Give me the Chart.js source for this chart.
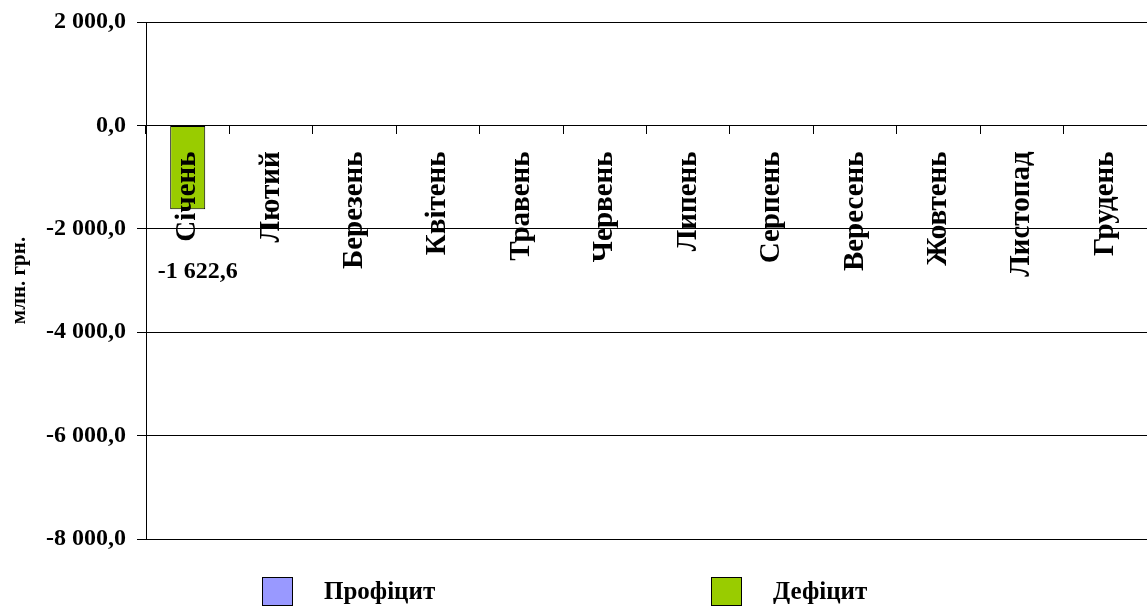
<!DOCTYPE html>
<html lang="uk">
<head>
<meta charset="utf-8">
<title>Виконання бюджету: профіцит / дефіцит, млн. грн.</title>
<script src="https://cdn.jsdelivr.net/npm/chart.js@4/dist/chart.umd.min.js"></script>
<style>
  html, body { margin: 0; padding: 0; background: #fff; }
  #wrap { position: relative; width: 1147px; height: 607px; }
  #chart { position: absolute; left: 0; top: 0; }
  .legend-item { position: absolute; top: 576px; height: 30px; display: flex; align-items: center;
                 font-family: "Liberation Serif", "Times New Roman", serif; font-weight: bold;
                 font-size: 25px; color: #000; white-space: nowrap; }
  .legend-box { width: 29px; height: 27px; border: 1px solid #000; margin-right: 31px; box-sizing: content-box; }
</style>
</head>
<body>
<div id="wrap">
  <canvas id="chart" width="1147" height="607"></canvas>
</div>
<script>
// Місяці року
const months = ['Січень', 'Лютий', 'Березень', 'Квітень', 'Травень', 'Червень',
                'Липень', 'Серпень', 'Вересень', 'Жовтень', 'Листопад', 'Грудень'];

// Профіцит та дефіцит бюджету, млн. грн.
const profitValues  = [null, null, null, null, null, null, null, null, null, null, null, null];
const deficitValues = [-1622.6, null, null, null, null, null, null, null, null, null, null, null];

// Шкала значень
const yMin = -8000;
const yMax = 2000;
const yStep = 2000;

const seriesNames  = ['Профіцит', 'Дефіцит'];
const seriesColors = ['#9999FF', '#99CC00'];
const legendLeft   = [262, 711];

const SERIF = '"Liberation Serif", "Times New Roman", serif';

// 1234.5 -> "1 234,5"
function fmt(v) {
  const s = Math.abs(v).toFixed(1).split('.');
  const int = s[0].replace(/\B(?=(\d{3})+(?!\d))/g, ' ');
  return (v < 0 ? '-' : '') + int + ',' + s[1];
}

// Підписи значень під стовпцями
const valueLabels = {
  id: 'valueLabels',
  afterDraw(chart) {
    const ctx = chart.ctx;
    ctx.save();
    ctx.font = 'bold 24px ' + SERIF;
    ctx.fillStyle = '#000';
    ctx.textAlign = 'center';
    ctx.textBaseline = 'middle';
    chart.data.datasets.forEach((ds, di) => {
      const meta = chart.getDatasetMeta(di);
      meta.data.forEach((el, i) => {
        const v = ds.data[i];
        if (v === null || v === undefined) return;
        ctx.fillText(fmt(v), el.x + 10, el.y + 63);
      });
    });
    ctx.restore();
  }
};

const chart = new Chart(document.getElementById('chart'), {
  type: 'bar',
  data: {
    labels: months,
    datasets: [
      { label: seriesNames[0], data: profitValues, backgroundColor: seriesColors[0] },
      { label: seriesNames[1], data: deficitValues, backgroundColor: seriesColors[1] }
    ].map(d => Object.assign(d, {
      borderColor: '#000', borderWidth: 1, borderSkipped: false,
      grouped: false, barPercentage: 0.42, categoryPercentage: 1
    }))
  },
  options: {
    responsive: false,
    animation: false,
    devicePixelRatio: 1,
    layout: { padding: { top: 22, right: 0, bottom: 68, left: 0 } },
    plugins: {
      legend: { display: false },
      tooltip: { enabled: false }
    },
    scales: {
      x: {
        position: { y: 0 },
        offset: true,
        grid: { display: true, drawOnChartArea: false, drawTicks: true, tickLength: 8,
                color: '#000', offset: true },
        border: { display: true, color: '#000' },
        ticks: {
          z: 1,
          autoSkip: false, minRotation: 90, maxRotation: 90, padding: 18, color: '#000',
          font: { family: SERIF, size: 29, weight: 'bold' }
        },
        afterFit(scale) { scale.paddingLeft = 0; scale.paddingRight = 0; }
      },
      y: {
        min: yMin, max: yMax,
        ticks: {
          stepSize: yStep, padding: 11, color: '#000',
          font: { family: SERIF, size: 24, weight: 'bold' },
          callback: v => fmt(v)
        },
        grid: { color: '#000', lineWidth: 1, drawTicks: true, tickLength: 9 },
        border: { display: true, color: '#000' },
        title: {
          display: true, text: 'млн. грн.', color: '#000',
          font: { family: SERIF, size: 21, weight: 'bold' },
          padding: { top: 7, bottom: 0 }
        },
        afterFit(scale) {
          scale.width = 146;
          scale.paddingTop = 0;
          scale.paddingBottom = 0;
        }
      }
    }
  },
  plugins: [valueLabels]
});

// Легенда під діаграмою
const wrap = document.getElementById('wrap');
chart.data.datasets.forEach((ds, i) => {
  const item = document.createElement('div');
  item.className = 'legend-item';
  item.style.left = legendLeft[i] + 'px';
  const box = document.createElement('span');
  box.className = 'legend-box';
  box.style.background = ds.backgroundColor;
  const txt = document.createElement('span');
  txt.textContent = ds.label;
  item.appendChild(box);
  item.appendChild(txt);
  wrap.appendChild(item);
});
</script>
</body>
</html>
